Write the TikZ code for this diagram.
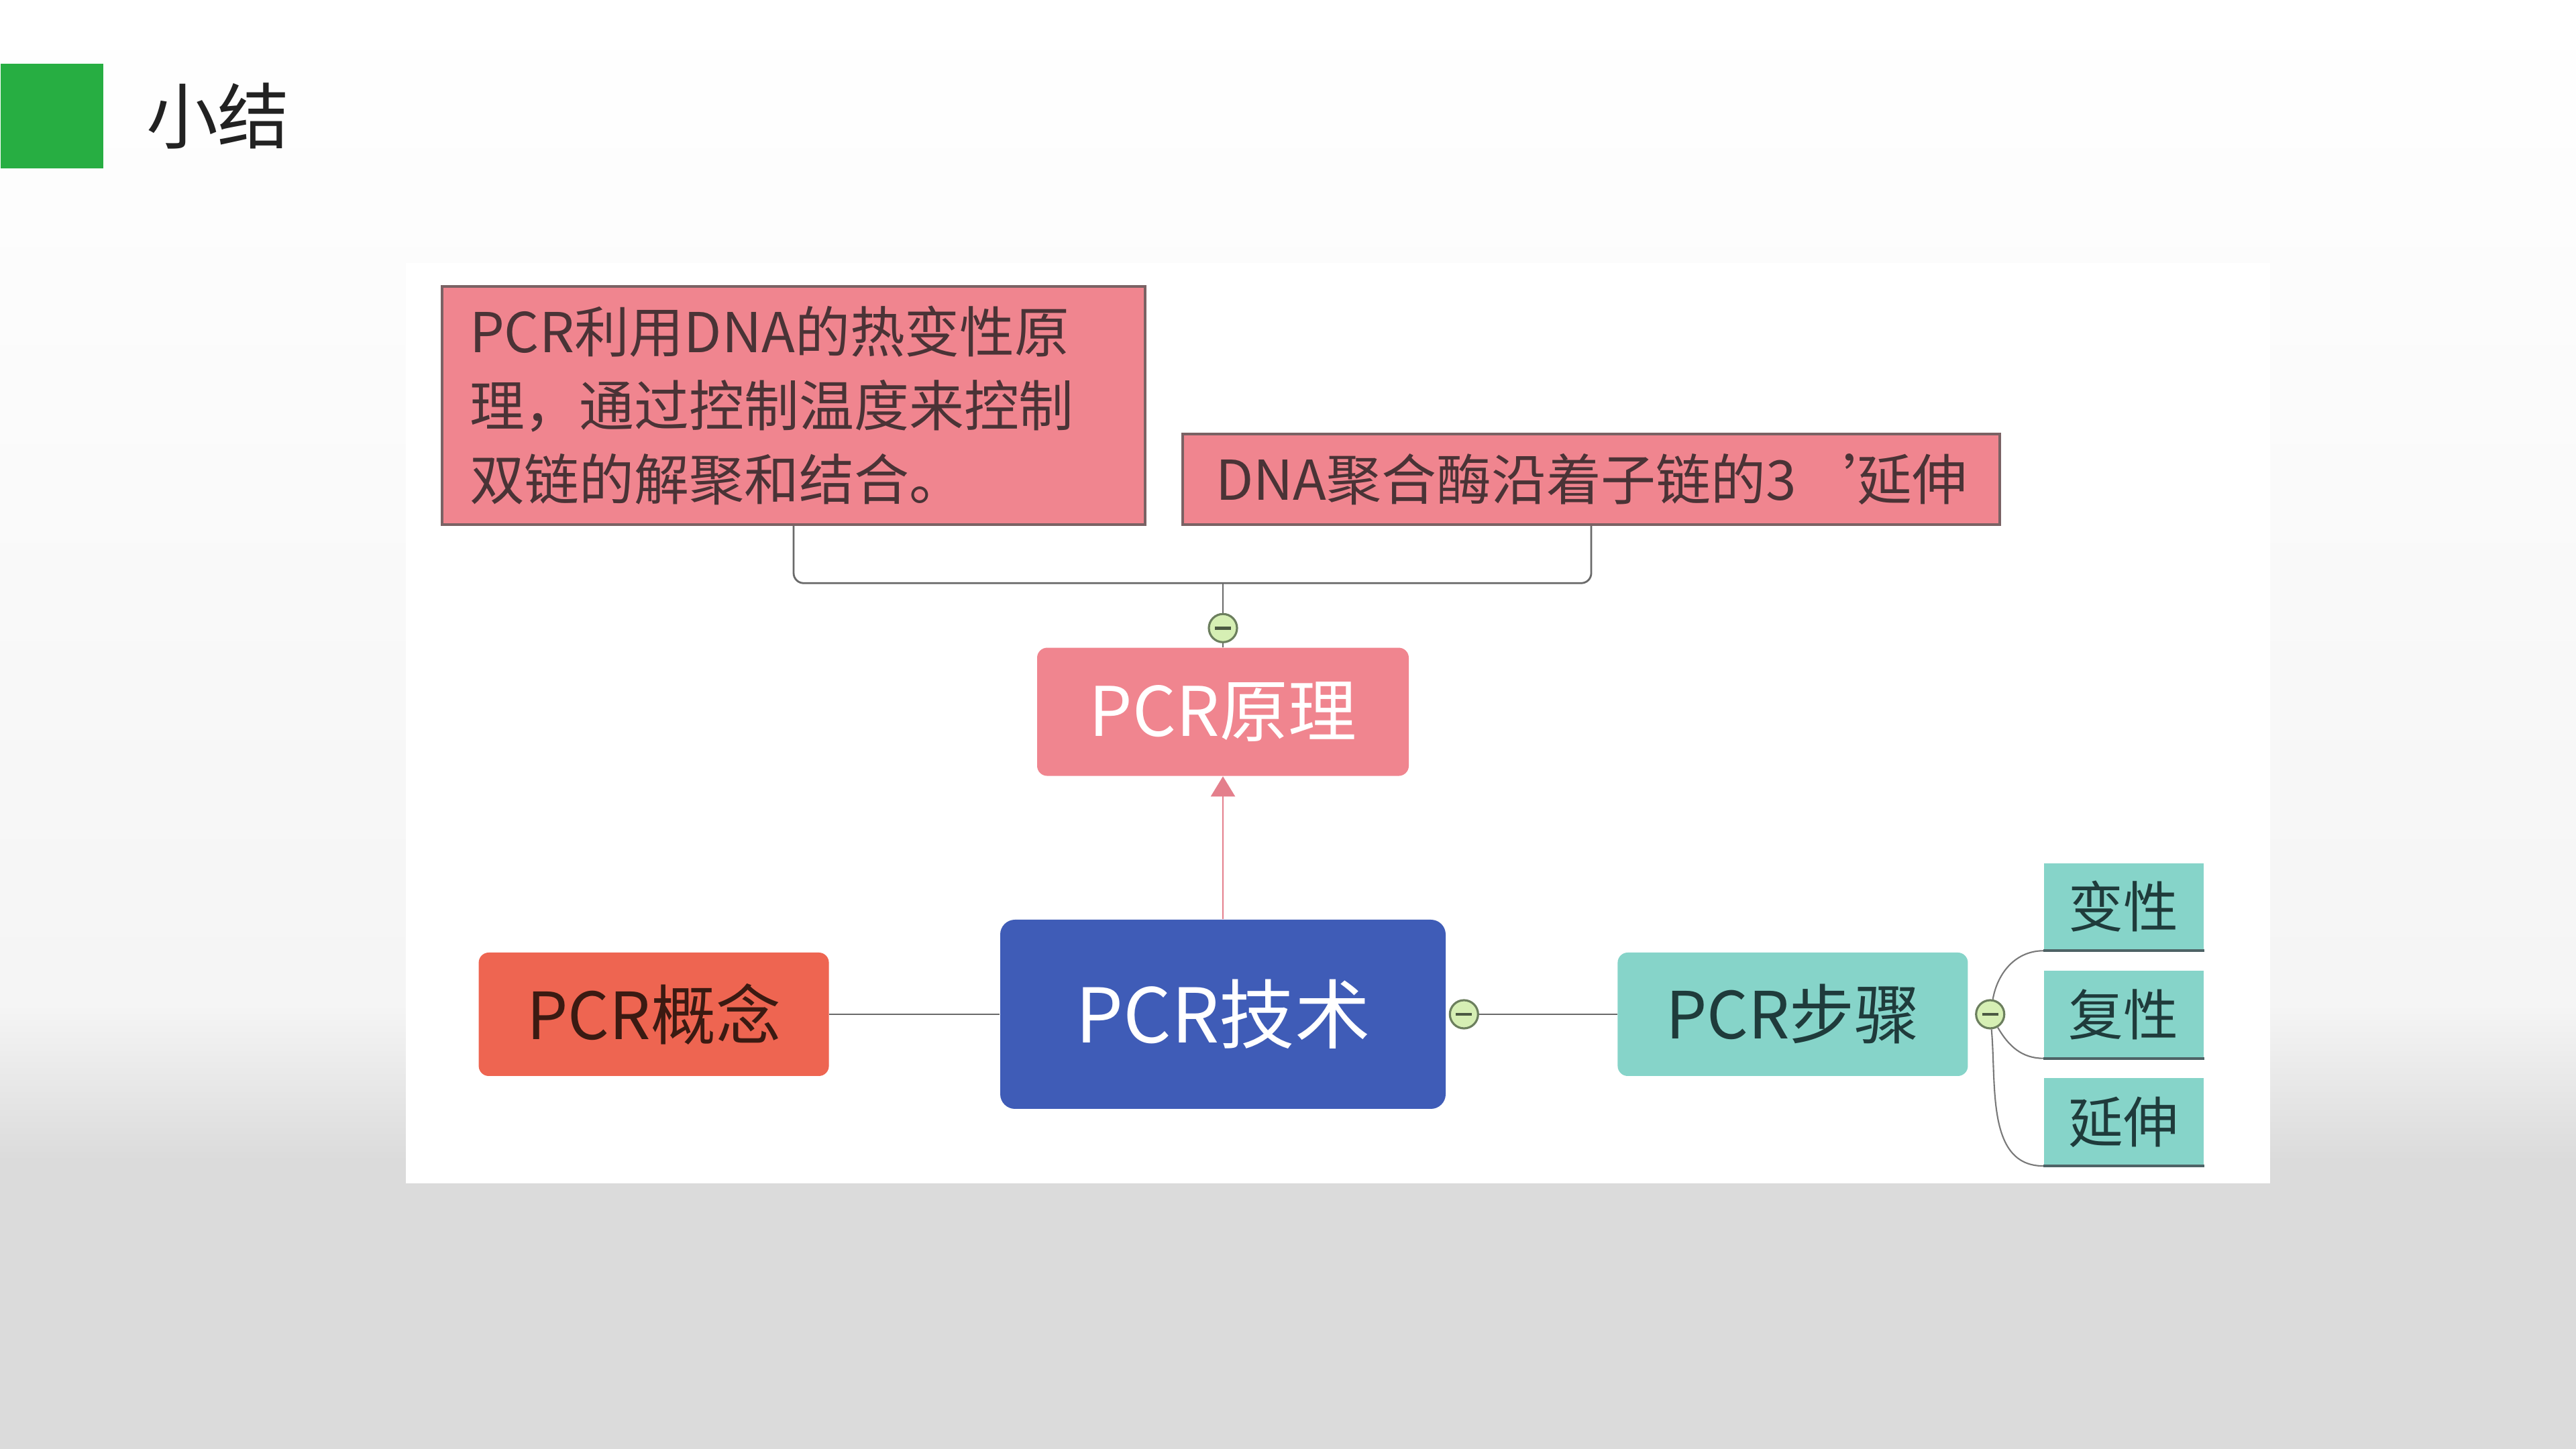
\documentclass[tikz,border=0pt]{standalone}
\usepackage{fontspec}
\setmainfont{Noto Sans CJK SC}
\usepackage{tikz}
\usetikzlibrary{arrows.meta,positioning,calc}
\usepackage{xcolor}
\definecolor{titlegreen}{HTML}{27AE42}
\definecolor{titletext}{HTML}{222222}
\definecolor{notepink}{HTML}{F0858F}
\definecolor{notetext}{HTML}{4A3336}
\definecolor{noteedge}{HTML}{7A6264}
\definecolor{conceptred}{HTML}{EE6551}
\definecolor{concepttext}{HTML}{3B1A12}
\definecolor{techblue}{HTML}{3F5CB7}
\definecolor{stepteal}{HTML}{86D4C9}
\definecolor{steptext}{HTML}{1F3B3B}
\definecolor{leafedge}{HTML}{4E6366}
\definecolor{linegray}{HTML}{6A6A6A}
\definecolor{arrowpink}{HTML}{E47F8C}
\definecolor{foldgreen}{HTML}{D6EFB4}
\definecolor{foldedge}{HTML}{6C7F5E}
\definecolor{bggray}{HTML}{DBDBDB}

\begin{document}
\begin{tikzpicture}[node distance=1cm,>={Triangle[length=0.3cm,width=0.36cm]},
  note/.style={rectangle,draw=noteedge,line width=1.1pt,fill=notepink,text=notetext,
    font=\fontsize{23.3pt}{31.3pt}\selectfont,inner xsep=0.41cm,inner ysep=0pt},
  topic/.style={rectangle,rounded corners=0.15cm,inner sep=0pt},
  leaf/.style={rectangle,fill=stepteal,text=steptext,minimum width=2.38cm,
    minimum height=1.3cm,inner sep=0pt,font=\fontsize{23.3pt}{28pt}\selectfont},
  fold/.style={circle,draw=foldedge,fill=foldgreen,line width=0.9pt,minimum size=0.42cm,
    inner sep=0pt,path picture={\draw[foldedge!70!black,line width=1.4pt]
      ([xshift=-0.12cm]path picture bounding box.center) --
      ([xshift=0.12cm]path picture bounding box.center);}},
  link/.style={draw=linegray,line width=0.8pt},
  twig/.style={draw=linegray!90,line width=0.6pt},
  underline/.style={draw=leafedge,line width=1.2pt}]
  \useasboundingbox (0,0) rectangle (38.4,21.6);
  \fill[bggray] (0,0) rectangle (38.4,21.6);
  \shade[top color=white,bottom color=black!4] (0,21.6) rectangle (38.4,6.6);
  \shade[top color=black!4,bottom color=bggray] (0,6.6) rectangle (38.4,4.3);
  \fill[white] (6.05,3.96) rectangle (33.84,17.68);

  \node (mark) [fill=titlegreen,minimum width=1.53cm,minimum height=1.56cm,inner sep=0pt,
    anchor=south west] at (0,19.08) {};
  \node (title) [right=0.63cm of mark,inner sep=0pt,text=titletext,
    font=\fontsize{30.4pt}{36pt}\selectfont] {小结};

  \node (tech) [topic,fill=techblue,text=white,rounded corners=0.22cm,minimum width=6.64cm,
    minimum height=2.82cm,font=\fontsize{32pt}{38pt}\selectfont] at (18.23,6.48) {PCR技术};
  \node (concept) [topic,fill=conceptred,text=concepttext,minimum width=5.22cm,
    minimum height=1.84cm,font=\fontsize{27.6pt}{33pt}\selectfont,left=2.54cm of tech] {PCR概念};
  \node (steps) [topic,fill=stepteal,text=steptext,minimum width=5.22cm,
    minimum height=1.84cm,font=\fontsize{27.6pt}{33pt}\selectfont,right=2.55cm of tech] {PCR步骤};
  \node (principle) [topic,fill=notepink,text=white,minimum width=5.54cm,
    minimum height=1.91cm,font=\fontsize{29pt}{35pt}\selectfont,above=2.13cm of tech] {PCR原理};

  \node (fold1) [fold,above=0.06cm of principle] {};
  \node (fold2) [fold,right=0.04cm of tech] {};
  \node (fold3) [fold,right=0.1cm of steps] {};

  \node (renature) [leaf,right=1.12cm of steps] {复性};
  \node (denature) [leaf,above=0.29cm of renature] {变性};
  \node (extend) [leaf,below=0.29cm of renature] {延伸};

  \node (idea) [note,text width=9.66cm,align=left,minimum height=3.55cm,anchor=south]
    at (11.83,13.76) {PCR利用DNA的热变性原\\理，通过控制温度来控制\\双链的解聚和结合。};
  \node (poly) [note,minimum width=12.18cm,minimum height=1.35cm,anchor=south]
    at (23.72,13.76) {DNA聚合酶沿着子链的3\hspace{0.85em}\makebox[0.25em][l]{’}延伸};

  \coordinate (join) at ($(fold1)+(0,0.67)$);
  \draw[link,rounded corners=0.15cm] (idea.south) |- (join) -| (poly.south);
  \draw[link] (join) -- (fold1);
  \draw[link] (fold1) -- (principle);
  \draw[draw=arrowpink,line width=0.6pt,->,arrowpink] (tech) -- (principle);

  \draw[link] (concept) -- (tech);
  \draw[link] (fold2) -- (steps);
  \draw[twig] (fold3) to[out=80,in=180] (denature.south west);
  \draw[twig] (fold3) to[out=-60,in=180] (renature.south west);
  \draw[twig] (fold3) to[out=-85,in=180] (extend.south west);
  \draw[underline] (denature.south west) -- (denature.south east);
  \draw[underline] (renature.south west) -- (renature.south east);
  \draw[underline] (extend.south west) -- (extend.south east);
\end{tikzpicture}
\end{document}
